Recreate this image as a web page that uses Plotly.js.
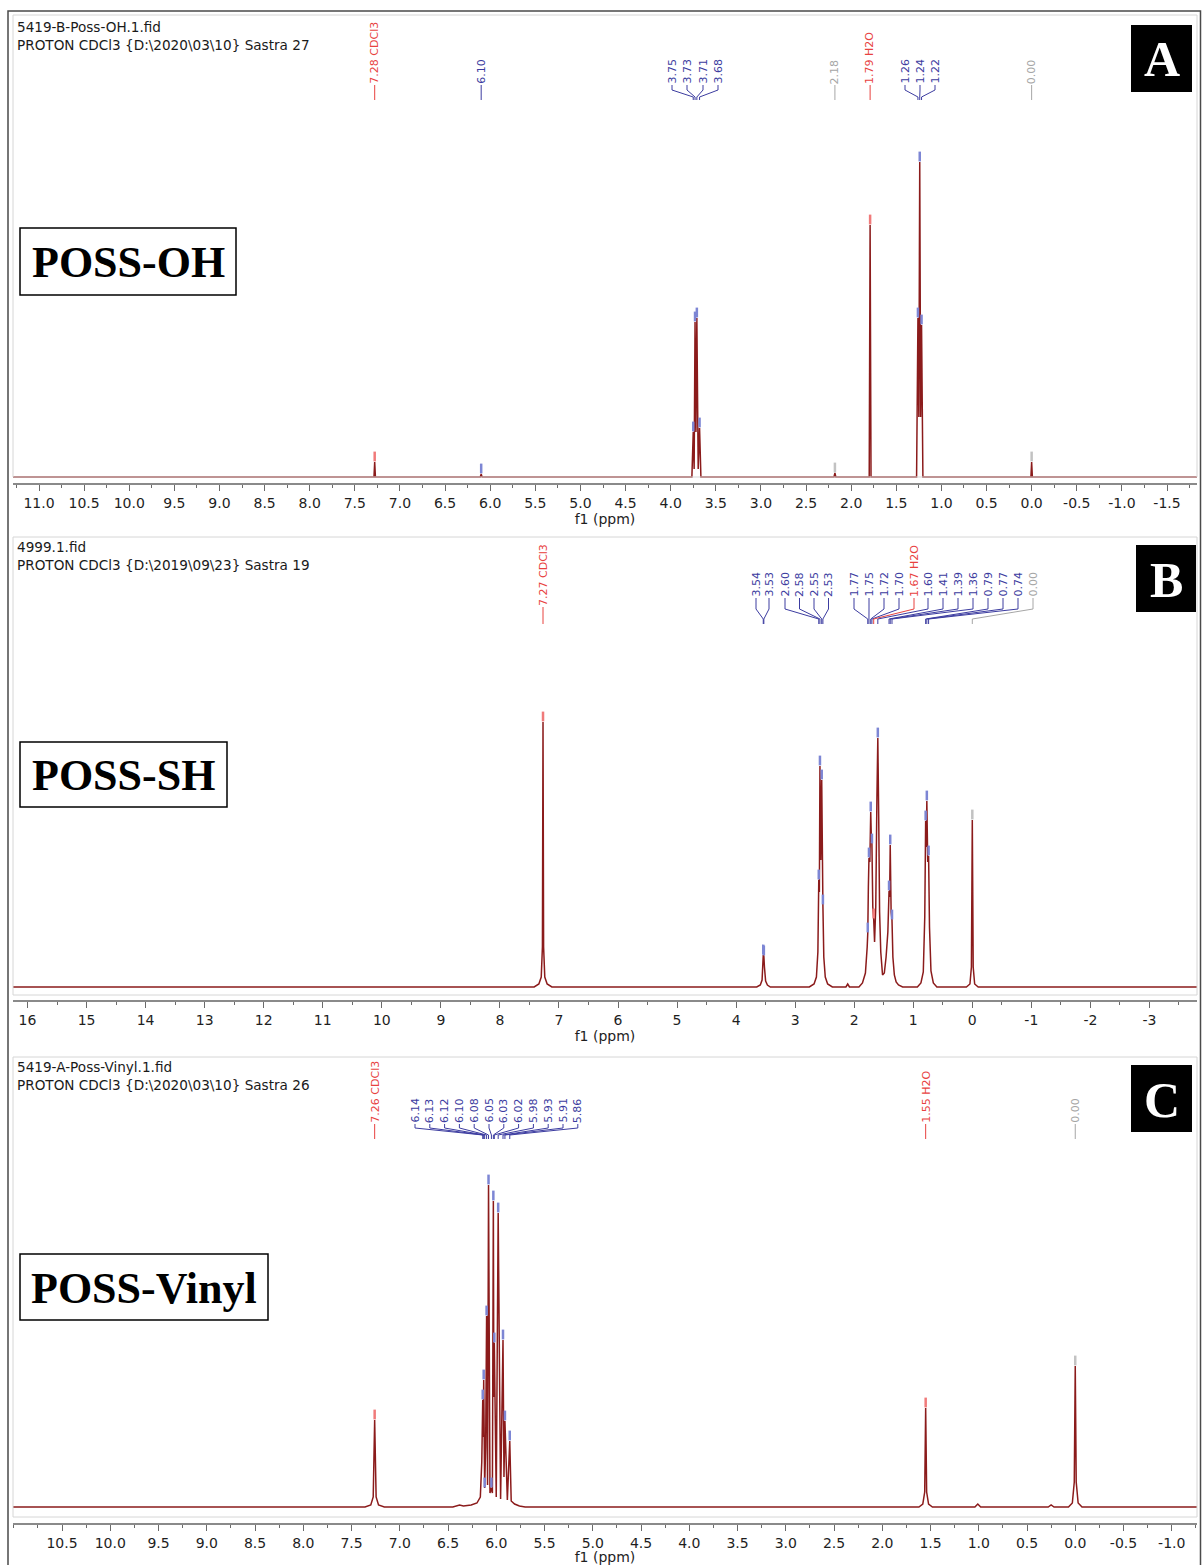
<!DOCTYPE html>
<html><head><meta charset="utf-8">
<script src="https://cdn.plot.ly/plotly-3.0.1.min.js"></script>
<style>html,body{margin:0;padding:0;background:#fff}#chart{width:1202px;height:1565px}</style>
</head><body><div id="chart"></div>
<script>
// ================= DATA =================
// Panel A : POSS-OH   [ppm, intensity]
const spectrumA = [
  [11.30,0],[7.288,0],[7.28,15],[7.272,0],
  [6.11,0],[6.10,3],[6.09,0],
  [3.765,0],[3.75,45],[3.74,8],[3.73,155],[3.72,45],[3.71,159],[3.695,8],[3.68,49],[3.665,0],
  [2.19,0],[2.18,4],[2.17,0],
  [1.80,0],[1.79,252],[1.78,0],
  [1.275,0],[1.26,159],[1.25,60],[1.24,315],[1.23,60],[1.22,152],[1.205,0],
  [0.008,0],[0.00,15],[-0.008,0],[-1.85,0]
];
const labelTextA = ["7.28 CDCl3","6.10","3.75","3.73","3.71","3.68","2.18","1.79 H2O","1.26","1.24","1.22","0.00"];
const labelPpmA  = [7.28,6.10,3.75,3.73,3.71,3.68,2.18,1.79,1.26,1.24,1.22,0.00];
const labelKindA = ["solvent","peak","peak","peak","peak","peak","other","solvent","peak","peak","peak","other"];
const tickValsA = [11.0,10.5,10.0,9.5,9.0,8.5,8.0,7.5,7.0,6.5,6.0,5.5,5.0,4.5,4.0,3.5,3.0,2.5,2.0,1.5,1.0,0.5,0.0,-0.5,-1.0,-1.5];
const tickTextA = ["11.0","10.5","10.0","9.5","9.0","8.5","8.0","7.5","7.0","6.5","6.0","5.5","5.0","4.5","4.0","3.5","3.0","2.5","2.0","1.5","1.0","0.5","0.0","-0.5","-1.0","-1.5"];

// Panel B : POSS-SH
const spectrumB = [
  [16.30,0],[7.42,0],[7.34,3],[7.30,10],[7.28,40],[7.27,265],[7.26,40],[7.24,10],[7.20,3],[7.12,0],
  [3.65,0],[3.59,2],[3.56,7],[3.545,25],[3.54,32],[3.535,28],[3.53,31],[3.52,20],[3.50,6],[3.47,2],[3.42,0],
  [2.76,0],[2.68,3],[2.64,10],[2.615,35],[2.60,107],[2.59,95],[2.58,221],[2.565,127],[2.55,207],[2.54,95],[2.53,82],[2.515,30],[2.49,10],[2.45,3],[2.37,0],
  [2.14,0],[2.11,3],[2.08,0],
  [1.92,0],[1.86,4],[1.81,14],[1.78,40],[1.77,54],[1.76,100],[1.75,129],[1.735,125],[1.72,175],[1.71,150],[1.70,143],
  [1.685,80],[1.67,68],[1.655,45],[1.635,80],[1.615,190],[1.60,249],[1.585,170],[1.57,75],[1.55,35],[1.52,12],
  [1.49,14],[1.46,30],[1.43,55],[1.42,80],[1.41,96],[1.40,90],[1.39,142],[1.375,75],[1.36,67],[1.345,30],[1.32,12],[1.29,5],[1.25,2],[1.18,0],
  [0.93,0],[0.87,4],[0.83,15],[0.805,70],[0.79,166],[0.78,140],[0.77,186],[0.755,125],[0.74,131],[0.725,60],[0.70,16],[0.66,4],[0.60,0],
  [0.10,0],[0.04,3],[0.015,20],[0.00,167],[-0.015,20],[-0.04,3],[-0.10,0],[-3.90,0]
];
const labelTextB = ["7.27 CDCl3","3.54","3.53","2.60","2.58","2.55","2.53","1.77","1.75","1.72","1.70","1.67 H2O","1.60","1.41","1.39","1.36","0.79","0.77","0.74","0.00"];
const labelPpmB  = [7.27,3.54,3.53,2.60,2.58,2.55,2.53,1.77,1.75,1.72,1.70,1.67,1.60,1.41,1.39,1.36,0.79,0.77,0.74,0.00];
const labelKindB = ["solvent","peak","peak","peak","peak","peak","peak","peak","peak","peak","peak","solvent","peak","peak","peak","peak","peak","peak","peak","other"];
const tickValsB = [16,15,14,13,12,11,10,9,8,7,6,5,4,3,2,1,0,-1,-2,-3];
const tickTextB = ["16","15","14","13","12","11","10","9","8","7","6","5","4","3","2","1","0","-1","-2","-3"];

// Panel C : POSS-Vinyl
const spectrumC = [
  [11.05,0],[7.36,0],[7.30,2],[7.275,10],[7.26,87],[7.245,10],[7.22,2],[7.16,0],
  [6.45,0],[6.38,2],[6.34,1],[6.26,2],[6.20,4],[6.165,10],[6.15,45],[6.14,107],[6.135,70],[6.13,127],[6.12,19],[6.11,60],
  [6.10,191],[6.09,22],[6.08,322],[6.065,14],[6.05,19],[6.04,14],[6.03,306],[6.025,110],[6.02,164],[6.00,10],[5.98,294],
  [5.955,8],[5.93,167],[5.92,30],[5.91,86],[5.885,7],[5.86,66],[5.845,6],[5.81,3],[5.76,1],[5.70,0],
  [1.62,0],[1.58,3],[1.56,15],[1.55,99],[1.54,15],[1.52,3],[1.48,0],
  [1.04,0],[1.01,3],[0.98,0],
  [0.28,0],[0.25,2],[0.22,0],
  [0.07,0],[0.03,4],[0.01,25],[0.00,141],[-0.01,25],[-0.03,4],[-0.07,0],[-1.30,0]
];
const labelTextC = ["7.26 CDCl3","6.14","6.13","6.12","6.10","6.08","6.05","6.03","6.02","5.98","5.93","5.91","5.86","1.55 H2O","0.00"];
const labelPpmC  = [7.26,6.14,6.13,6.12,6.10,6.08,6.05,6.03,6.02,5.98,5.93,5.91,5.86,1.55,0.00];
const labelKindC = ["solvent","peak","peak","peak","peak","peak","peak","peak","peak","peak","peak","peak","peak","solvent","other"];
const tickValsC = [10.5,10.0,9.5,9.0,8.5,8.0,7.5,7.0,6.5,6.0,5.5,5.0,4.5,4.0,3.5,3.0,2.5,2.0,1.5,1.0,0.5,0.0,-0.5,-1.0];
const tickTextC = ["10.5","10.0","9.5","9.0","8.5","8.0","7.5","7.0","6.5","6.0","5.5","5.0","4.5","4.0","3.5","3.0","2.5","2.0","1.5","1.0","0.5","0.0","-0.5","-1.0"];

const headerA = ["5419-B-Poss-OH.1.fid","PROTON CDCl3 {D:\\2020\\03\\10} Sastra 27"];
const headerB = ["4999.1.fid","PROTON CDCl3 {D:\\2019\\09\\23} Sastra 19"];
const headerC = ["5419-A-Poss-Vinyl.1.fid","PROTON CDCl3 {D:\\2020\\03\\10} Sastra 26"];
const nameA = "POSS-OH", nameB = "POSS-SH", nameC = "POSS-Vinyl";

// ================= LAYOUT CONSTANTS =================
const W = 1202, H = 1565;
const FONT = "DejaVu Sans, Verdana, sans-serif";
const SERIF = "Liberation Serif, Times New Roman, serif";
const PLOT_L = 13, PLOT_R = 1197;
const kindStyle = {
  peak:    {text:"#3c3ca0", mark:"#7d86d4"},
  solvent: {text:"#e8423f", mark:"#f07a7a"},
  other:   {text:"#a6a6a6", mark:"#c2c2c2"}
};
const panels = [
  {xa:"x", ya:"y", spec:spectrumA, lt:labelTextA, lp:labelPpmA, lk:labelKindA, tv:tickValsA, tt:tickTextA, minor:0.25,
   head:headerA, name:nameA, letter:"A",
   zeroPx:1031.64, pxPerPpm:90.24, frameTop:15, frameBottom:477, axisY:483, baseY:477, headY:[27,45],
   textBottom:84, singleBottom:84, y1:90, y2:97, y3:100,
   labelPx:[null,null,672,687,703,718,null,null,905,920,935,null],
   letterBox:[1131,25,1192,92], nameBox:[20,228,236,295]},
  {xa:"x2", ya:"y2", spec:spectrumB, lt:labelTextB, lp:labelPpmB, lk:labelKindB, tv:tickValsB, tt:tickTextB, minor:0.5,
   head:headerB, name:nameB, letter:"B",
   zeroPx:972.3, pxPerPpm:59.05, frameTop:537, frameBottom:995, axisY:1000, baseY:987, headY:[547,565],
   textBottom:597, singleBottom:606, y1:609, y2:619, y3:624,
   labelPx:[null,756,769,785,799.5,814,828.5,854,869,884,899,914,928,943,958,973,988,1003,1018,1033],
   letterBox:[1136,545,1196,612], nameBox:[20,742,227,807]},
  {xa:"x3", ya:"y3", spec:spectrumC, lt:labelTextC, lp:labelPpmC, lk:labelKindC, tv:tickValsC, tt:tickTextC, minor:0.25,
   head:headerC, name:nameC, letter:"C",
   zeroPx:1075.25, pxPerPpm:96.5, frameTop:1057, frameBottom:1517, axisY:1523, baseY:1507, headY:[1067,1085],
   textBottom:1123, singleBottom:1123, y1:1128, y2:1135, y3:1139,
   labelPx:[null,415,429.8,444.6,459.4,474.2,489,503.8,518.6,533.4,548.2,563,577.8,null,null],
   letterBox:[1131,1065,1192,1132], nameBox:[20,1254,268,1320]}
];

const py = p => 1 - p / H;
const pxx = p => p / W;

const traces = [], shapes = [], annotations = [];
const layout = {
  width: W, height: H, margin: {l:0, r:0, t:0, b:0},
  paper_bgcolor: "#ffffff", plot_bgcolor: "rgba(0,0,0,0)",
  showlegend: false, font: {family: FONT, color: "#222"}
};

// outer border
shapes.push({type:"rect", xref:"paper", yref:"paper", x0:pxx(8), x1:pxx(1200.5), y0:py(1568), y1:py(11),
  line:{color:"#4a4a4a", width:1.5}, fillcolor:"rgba(0,0,0,0)", layer:"above"});

panels.forEach((P, i) => {
  const n = i === 0 ? "" : String(i + 1);
  const toPpm = px => (P.zeroPx - px) / P.pxPerPpm;
  layout["xaxis" + n] = {
    domain: [pxx(PLOT_L), pxx(PLOT_R)], anchor: "y" + n,
    range: [toPpm(PLOT_L), toPpm(PLOT_R)],
    showgrid: false, zeroline: false, showline: true, linecolor: "#8a8a8a", linewidth: 2,
    ticks: "outside", ticklen: 6, tickwidth: 1, tickcolor: "#6a6a6a",
    tickmode: "array", tickvals: P.tv, ticktext: P.tt,
    tickfont: {family: FONT, size: 14, color: "#1e1e1e"},
    minor: {ticks: "outside", ticklen: 3, tickwidth: 1, tickcolor: "#6a6a6a", dtick: P.minor, tick0: 0, showgrid: false},
    title: {text: "f1 (ppm)", font: {family: FONT, size: 14, color: "#1e1e1e"}, standoff: 2},
    fixedrange: true
  };
  layout["yaxis" + n] = {
    domain: [py(P.axisY), py(P.frameTop)], anchor: "x" + n,
    range: [-(P.axisY - P.baseY), P.baseY - P.frameTop],
    visible: false, fixedrange: true
  };

  // spectrum
  traces.push({type: "scatter", mode: "lines", xaxis: P.xa, yaxis: P.ya,
    x: P.spec.map(d => d[0]), y: P.spec.map(d => d[1]),
    line: {color: "#8b1b1b", width: 1.5}, hoverinfo: "skip", cliponaxis: true});

  // peak tick markers
  const heightAt = ppm => { const d = P.spec.find(q => Math.abs(q[0] - ppm) < 1e-6); return d ? d[1] : 0; };
  traces.push({type: "scatter", mode: "markers", xaxis: P.xa, yaxis: P.ya,
    x: P.lp, y: P.lp.map(p => heightAt(p) + 5.5),
    marker: {symbol: "line-ns", size: 7, line: {width: 2.5, color: P.lk.map(k => kindStyle[k].mark)}},
    hoverinfo: "skip", cliponaxis: false});

  // frame
  shapes.push({type:"rect", xref:"paper", yref:"paper", x0:pxx(PLOT_L), x1:pxx(PLOT_R), y0:py(P.frameBottom), y1:py(P.frameTop),
    line:{color:"#d6d6d6", width:1}, fillcolor:"rgba(0,0,0,0)", layer:"above"});

  // headers
  P.head.forEach((t, k) => annotations.push({xref:"paper", yref:"paper", x:pxx(15), y:py(P.headY[k]),
    xanchor:"left", yanchor:"middle", showarrow:false, text:t, font:{family:FONT, size:13.6, color:"#1a1a1a"}}));

  // peak labels + connectors
  P.lt.forEach((t, k) => {
    const kind = P.lk[k];
    const col = kindStyle[kind].text;
    const single = P.labelPx[k] === null;
    const lppm = single ? P.lp[k] : toPpm(P.labelPx[k]);
    const tb = single ? P.singleBottom : P.textBottom;
    annotations.push({xref: P.xa, yref: "paper", x: lppm, y: py(tb), xanchor: "center", yanchor: "bottom",
      textangle: -90, showarrow: false, borderpad: 0, borderwidth: 0, text: t,
      font: {family: FONT, size: 11, color: col}});
    let path;
    if (single) {
      path = `M ${lppm},${py(tb + 1)} L ${lppm},${py(P.y3)}`;
    } else {
      path = `M ${lppm},${py(tb + 1)} L ${lppm},${py(P.y1)} L ${P.lp[k]},${py(P.y2)} L ${P.lp[k]},${py(P.y3)}`;
    }
    shapes.push({type: "path", xref: P.xa, yref: "paper", path: path, line: {color: col, width: 1}, layer: "above"});
  });

  // letter box
  const lb = P.letterBox;
  shapes.push({type:"rect", xref:"paper", yref:"paper", x0:pxx(lb[0]), x1:pxx(lb[2]), y0:py(lb[3]), y1:py(lb[1]),
    line:{width:0}, fillcolor:"#000", layer:"above"});
  annotations.push({xref:"paper", yref:"paper", x:pxx((lb[0]+lb[2])/2), y:py((lb[1]+lb[3])/2 + 1),
    xanchor:"center", yanchor:"middle", showarrow:false, text:"<b>" + P.letter + "</b>",
    font:{family:SERIF, size:50, color:"#fff"}});

  // sample name box
  const nb = P.nameBox;
  shapes.push({type:"rect", xref:"paper", yref:"paper", x0:pxx(nb[0]), x1:pxx(nb[2]), y0:py(nb[3]), y1:py(nb[1]),
    line:{width:1.5, color:"#000"}, fillcolor:"#fff", layer:"above"});
  annotations.push({xref:"paper", yref:"paper", x:pxx((nb[0]+nb[2])/2), y:py((nb[1]+nb[3])/2 + 1),
    xanchor:"center", yanchor:"middle", showarrow:false, text:"<b>" + P.name + "</b>",
    font:{family:SERIF, size:44, color:"#000"}});
});

layout.shapes = shapes;
layout.annotations = annotations;
Plotly.newPlot("chart", traces, layout, {displayModeBar: false, staticPlot: true});
</script>
</body></html>
